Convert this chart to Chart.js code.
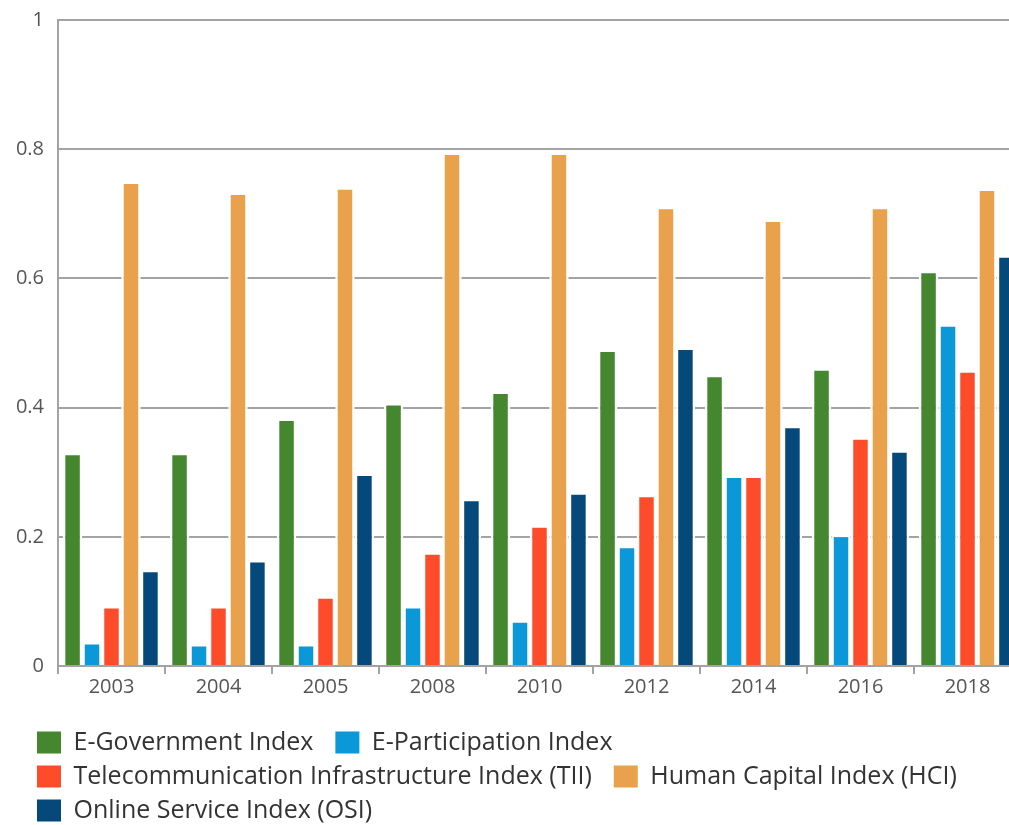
<!DOCTYPE html>
<html>
<head>
<meta charset="utf-8">
<script src="https://cdn.jsdelivr.net/npm/chart.js@4/dist/chart.umd.min.js"></script>
<style>
  html, body { margin: 0; padding: 0; background: #fff; overflow: hidden; }
  #wrap { position: absolute; left: 0; top: 0; width: 1022px; height: 833px; }
</style>
</head>
<body>
<div id="wrap"><canvas id="chart"></canvas></div>
<script>
// data
const years = ["2003", "2004", "2005", "2008", "2010", "2012", "2014", "2016", "2018"];
const egovIndex = [0.330, 0.330, 0.383, 0.407, 0.425, 0.490, 0.451, 0.461, 0.612];
const epartIndex = [0.037, 0.034, 0.034, 0.093, 0.071, 0.186, 0.295, 0.203, 0.529];
const tiiIndex = [0.093, 0.093, 0.108, 0.176, 0.218, 0.265, 0.295, 0.354, 0.458];
const hciIndex = [0.750, 0.733, 0.741, 0.795, 0.795, 0.711, 0.691, 0.711, 0.739];
const osiIndex = [0.149, 0.164, 0.298, 0.259, 0.269, 0.493, 0.372, 0.334, 0.636];
const yTicks = [0, 0.2, 0.4, 0.6, 0.8, 1];

const seriesNames = [
  "E-Government Index",
  "E-Participation Index",
  "Telecommunication Infrastructure Index (TII)",
  "Human Capital Index (HCI)",
  "Online Service Index (OSI)"
];
const seriesColors = ["#45872f", "#0a98d8", "#fe4b29", "#e9a14b", "#05487a"];

Chart.defaults.font.family = "'Open Sans', sans-serif";

function makeSet(i, values) {
  return {
    label: seriesNames[i],
    data: values,
    backgroundColor: seriesColors[i],
    borderColor: "#ffffff",
    borderWidth: 2.5,
    categoryPercentage: 0.91,
    barPercentage: 1.0
  };
}

const gridColor = "#a3a3a3";

// push the legend rows right so they start under the axis labels
const legendShift = {
  id: "legendShift",
  afterLayout(chart) {
    if (chart.legend) {
      chart.legend.left += 28;
      chart.legend.right += 28;
    }
  }
};

new Chart(document.getElementById("chart"), {
  type: "bar",
  data: {
    labels: years,
    datasets: [
      makeSet(0, egovIndex),
      makeSet(1, epartIndex),
      makeSet(2, tiiIndex),
      makeSet(3, hciIndex),
      makeSet(4, osiIndex)
    ]
  },
  plugins: [legendShift],
  options: {
    responsive: true,
    maintainAspectRatio: false,
    animation: false,
    layout: { padding: { left: 0, right: 1, top: 20, bottom: 0 } },
    plugins: {
      tooltip: { enabled: false },
      legend: {
        position: "bottom",
        align: "start",
        labels: {
          boxWidth: 24,
          boxHeight: 22,
          padding: 9,
          color: "#333333",
          font: { size: 25 },
          // extra trailing spaces widen the gap between items on a row
          generateLabels: (chart) => {
            const items = Chart.defaults.plugins.legend.labels.generateLabels(chart);
            items.forEach(it => {
              it.text = it.text + "  ";
              it.lineWidth = 0;
            });
            return items;
          }
        }
      }
    },
    scales: {
      x: {
        offset: true,
        grid: {
          display: true,
          drawOnChartArea: false,
          drawTicks: true,
          tickLength: 8,
          color: gridColor,
          lineWidth: 2,
          offset: true
        },
        border: { display: true, color: gridColor, width: 2 },
        ticks: { color: "#555555", font: { size: 20 }, padding: 1 },
        afterFit: (scale) => { scale.height = 55; }
      },
      y: {
        min: 0,
        max: 1,
        afterBuildTicks: (scale) => { scale.ticks = yTicks.map(v => ({ value: v })); },
        grid: { color: gridColor, lineWidth: 2, drawTicks: false },
        border: { display: true, color: gridColor, width: 2 },
        ticks: {
          color: "#555555",
          font: { size: 20 },
          padding: 14,
          callback: (v) => String(v)
        },
        afterFit: (scale) => {
          scale.width = 58;
          scale.paddingTop = 0;
          scale.paddingBottom = 0;
        }
      }
    }
  }
});
</script>
</body>
</html>
